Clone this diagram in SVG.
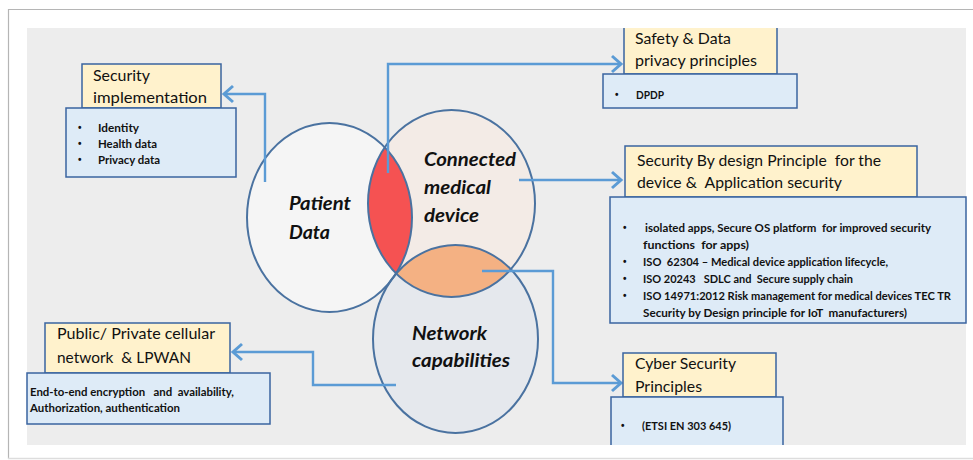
<svg xmlns="http://www.w3.org/2000/svg" width="973" height="460" viewBox="0 0 973 460">
<style>
.title{font-family:Lato,"Liberation Sans",sans-serif;font-size:16px;fill:#111;white-space:pre}
.body{font-family:Lato,"Liberation Sans",sans-serif;font-size:11px;font-weight:bold;fill:#111;white-space:pre}
.bul{font-family:"Liberation Sans",sans-serif;font-size:10px;font-weight:bold;fill:#111}
.big{font-family:Lato,"Liberation Sans",sans-serif;font-size:19px;font-weight:bold;font-style:italic;fill:#111}
.yel{fill:#fff2cc;stroke:#3a64a0;stroke-width:1.5}
.blu{fill:#deebf7;stroke:#3a64a0;stroke-width:1.5}
.conn{fill:none;stroke:#5b9bd5;stroke-width:2.4}
.circ{stroke:#4a72a0;stroke-width:2}
</style>
<defs>
<marker id="arr" markerUnits="userSpaceOnUse" markerWidth="24" markerHeight="24" refX="0" refY="0" orient="auto" viewBox="-12 -12 24 24" overflow="visible">
<path d="M-9,-8 L0,0 L-9,8" fill="none" stroke="#5b9bd5" stroke-width="3"/>
</marker>
<clipPath id="cPatient"><ellipse cx="329.5" cy="217.5" rx="82.5" ry="94.5"/></clipPath>
<clipPath id="cDevice"><ellipse cx="451.5" cy="203.5" rx="83.5" ry="93.5"/></clipPath>
</defs>
<rect x="0" y="0" width="973" height="460" fill="#ffffff"/>
<path d="M8.5,459 L8.5,9.5 L973,9.5" fill="none" stroke="#b5b5b5" stroke-width="1.2"/>
<line x1="8" y1="458.5" x2="973" y2="458.5" stroke="#dddddd" stroke-width="1.5"/>
<rect x="27" y="28" width="939" height="417" fill="#ededed"/>

<g id="circles">
<ellipse cx="329.5" cy="217.5" rx="82.5" ry="94.5" fill="#f5f5f5"/>
<ellipse cx="451.5" cy="203.5" rx="83.5" ry="93.5" fill="#f3ebe6"/>
<ellipse cx="455.5" cy="339" rx="82.5" ry="94" fill="#e5e8ed"/>
<ellipse cx="451.5" cy="203.5" rx="83.5" ry="93.5" fill="#f55252" clip-path="url(#cPatient)"/>
<ellipse cx="455.5" cy="339" rx="82.5" ry="94" fill="#f4b183" clip-path="url(#cDevice)"/>
</g>
<g id="patient-data">
<ellipse class="circ" cx="329.5" cy="217.5" rx="82.5" ry="94.5" fill="none"/>
<text class="big" x="289" y="210" textLength="62" lengthAdjust="spacingAndGlyphs">Patient</text>
<text class="big" x="289" y="239" textLength="41" lengthAdjust="spacingAndGlyphs">Data</text>
</g>
<g id="connected-medical-device">
<ellipse class="circ" cx="451.5" cy="203.5" rx="83.5" ry="93.5" fill="none"/>
<text class="big" x="424" y="166" textLength="92" lengthAdjust="spacingAndGlyphs">Connected</text>
<text class="big" x="424" y="194" textLength="67" lengthAdjust="spacingAndGlyphs">medical</text>
<text class="big" x="424" y="222" textLength="55" lengthAdjust="spacingAndGlyphs">device</text>
</g>
<g id="network-capabilities">
<ellipse class="circ" cx="455.5" cy="339" rx="82.5" ry="94" fill="none"/>
<text class="big" x="412" y="340" textLength="75" lengthAdjust="spacingAndGlyphs">Network</text>
<text class="big" x="412" y="367" textLength="98" lengthAdjust="spacingAndGlyphs">capabilities</text>
</g>

<g id="connectors">
<polyline class="conn" points="265,182 265,94 224,94" marker-end="url(#arr)"/>
<polyline class="conn" points="388,173 388,64 621,64" marker-end="url(#arr)"/>
<polyline class="conn" points="519,180 621,180" marker-end="url(#arr)"/>
<polyline class="conn" points="482,271 553,271 553,383 621,383" marker-end="url(#arr)"/>
<polyline class="conn" points="396,385 313,385 313,352 233,352" marker-end="url(#arr)"/>
</g>

<g id="security-implementation">
<rect class="yel" x="82" y="64" width="139" height="44"/>
<rect class="blu" x="66" y="108" width="170" height="69"/>
<text class="title" x="93" y="81" textLength="57" lengthAdjust="spacingAndGlyphs">Security</text>
<text class="title" x="93" y="103" textLength="114" lengthAdjust="spacingAndGlyphs">implementation</text>
<text class="bul" x="78" y="131">•</text>
<text class="body" x="98" y="132" textLength="41" lengthAdjust="spacingAndGlyphs">Identity</text>
<text class="bul" x="78" y="147">•</text>
<text class="body" x="98" y="148" textLength="59" lengthAdjust="spacingAndGlyphs">Health data</text>
<text class="bul" x="78" y="163">•</text>
<text class="body" x="98" y="164" textLength="62" lengthAdjust="spacingAndGlyphs">Privacy data</text>
</g>

<g id="safety-data-privacy">
<rect x="624" y="28" width="153" height="46" fill="#fff2cc"/>
<path d="M624,28 L624,74 L777,74 L777,28" fill="none" stroke="#3a64a0" stroke-width="1.5"/>
<rect class="blu" x="603" y="74" width="194" height="34"/>
<text class="title" x="635" y="44" textLength="96" lengthAdjust="spacingAndGlyphs">Safety &amp; Data</text>
<text class="title" x="635" y="66" textLength="122" lengthAdjust="spacingAndGlyphs">privacy principles</text>
<text class="bul" x="615" y="98">•</text>
<text class="body" x="636" y="99" textLength="28" lengthAdjust="spacingAndGlyphs">DPDP</text>
</g>

<g id="security-by-design">
<rect class="yel" x="625" y="146" width="292" height="51"/>
<rect class="blu" x="610" y="197" width="356" height="126"/>
<text class="title" x="637" y="166" textLength="244" lengthAdjust="spacingAndGlyphs">Security By design Principle  for the</text>
<text class="title" x="637" y="188" textLength="205" lengthAdjust="spacingAndGlyphs">device &amp;  Application security</text>
<text class="bul" x="623" y="231">•</text>
<text class="body" x="645" y="232" textLength="286" lengthAdjust="spacingAndGlyphs">isolated apps, Secure OS platform  for improved security</text>
<text class="body" x="643" y="249" textLength="106" lengthAdjust="spacingAndGlyphs">functions  for apps)</text>
<text class="bul" x="623" y="265">•</text>
<text class="body" x="643" y="266" textLength="245" lengthAdjust="spacingAndGlyphs">ISO  62304 – Medical device application lifecycle,</text>
<text class="bul" x="623" y="282">•</text>
<text class="body" x="643" y="283" textLength="210" lengthAdjust="spacingAndGlyphs">ISO 20243   SDLC and  Secure supply chain</text>
<text class="bul" x="623" y="299">•</text>
<text class="body" x="643" y="300" textLength="308" lengthAdjust="spacingAndGlyphs">ISO 14971:2012 Risk management for medical devices TEC TR</text>
<text class="body" x="643" y="317" textLength="264" lengthAdjust="spacingAndGlyphs">Security by Design principle for IoT  manufacturers)</text>
</g>

<g id="cellular-network">
<rect class="yel" x="45" y="323" width="185" height="50"/>
<rect class="blu" x="27" y="373" width="243" height="51"/>
<text class="title" x="57" y="339" textLength="158" lengthAdjust="spacingAndGlyphs">Public/ Private cellular</text>
<text class="title" x="57" y="363" textLength="134" lengthAdjust="spacingAndGlyphs">network  &amp; LPWAN</text>
<text class="body" x="30" y="396" textLength="204" lengthAdjust="spacingAndGlyphs">End-to-end encryption   and  availability,</text>
<text class="body" x="30" y="412" textLength="150" lengthAdjust="spacingAndGlyphs">Authorization, authentication</text>
</g>

<g id="cyber-security">
<rect class="yel" x="623" y="353" width="153" height="44"/>
<rect x="611" y="397" width="172" height="48" fill="#deebf7"/>
<path d="M611,445 L611,397 L783,397 L783,445" fill="none" stroke="#3a64a0" stroke-width="1.5"/>
<text class="title" x="635" y="369" textLength="101" lengthAdjust="spacingAndGlyphs">Cyber Security</text>
<text class="title" x="635" y="392" textLength="67" lengthAdjust="spacingAndGlyphs">Principles</text>
<text class="bul" x="621" y="429">•</text>
<text class="body" x="642" y="430" textLength="89" lengthAdjust="spacingAndGlyphs">(ETSI EN 303 645)</text>
</g>
</svg>
